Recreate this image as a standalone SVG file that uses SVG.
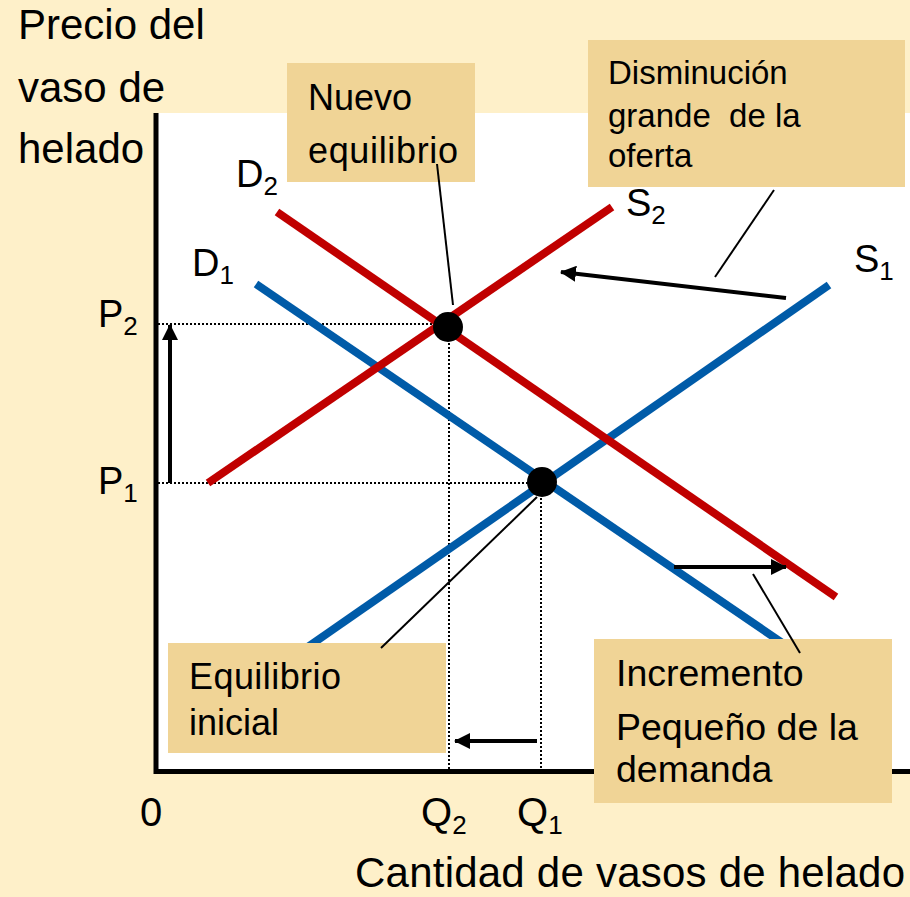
<svg xmlns="http://www.w3.org/2000/svg" width="910" height="897" viewBox="0 0 910 897">
<style>
text{font-family:"Liberation Sans",Arial,sans-serif;fill:#000}
.ax{font-size:42px}
.lb{font-size:38px}
.lq{font-size:40px}
.sub{font-size:26px}
.box{fill:#F0D496}
.bt{font-size:36px}
.bs{font-size:33px}
.bl{font-size:37.5px}
.crv{stroke-width:8;fill:none;stroke-linecap:butt}
.red{stroke:#C00000}
.blue{stroke:#005BA8}
.dot{stroke:#000;stroke-width:2;stroke-dasharray:2 2;fill:none}
.lead{stroke:#000;stroke-width:2;fill:none}
.arr{stroke:#000;stroke-width:4;fill:none;marker-end:url(#ah)}
</style>
<defs>
<marker id="ah" markerUnits="userSpaceOnUse" markerWidth="16" markerHeight="16" viewBox="0 0 16 16" refX="15" refY="8" orient="auto">
<path d="M0,0 L16,8 L0,16 z" fill="#000"/>
</marker>
</defs>
<rect x="0" y="0" width="910" height="897" fill="#FEF0C9"/>
<rect x="156" y="113" width="754" height="659" fill="#FFFFFF"/>

<g id="guides">
<line class="dot" x1="158" y1="324" x2="448" y2="324"/>
<line class="dot" x1="158" y1="483" x2="541" y2="483"/>
<line class="dot" x1="449" y1="327" x2="449" y2="770"/>
<line class="dot" x1="541" y1="482" x2="541" y2="770"/>
</g>

<g id="curves">
<line id="S1" class="crv blue" x1="289" y1="660" x2="829" y2="285"/>
<line id="D1" class="crv blue" x1="256" y1="284" x2="800" y2="655"/>
<line id="S2" class="crv red" x1="208" y1="483" x2="612" y2="207"/>
<line id="D2" class="crv red" x1="277" y1="212" x2="836" y2="597"/>
</g>

<g id="axes">
<line x1="156" y1="113" x2="156" y2="774" stroke="#000" stroke-width="5"/>
<line x1="154" y1="771.5" x2="910" y2="771.5" stroke="#000" stroke-width="5"/>
</g>

<g id="box-nuevo">
<rect class="box" x="287" y="63" width="188" height="119"/>
<text class="bt" x="308" y="110">Nuevo</text>
<text class="bt" x="308" y="163" textLength="150" lengthAdjust="spacing">equilibrio</text>
</g>
<g id="box-disminucion">
<rect class="box" x="588" y="40" width="317" height="147"/>
<text class="bs" x="608" y="84">Disminución</text>
<text class="bs" x="608" y="127" xml:space="preserve">grande  de la</text>
<text class="bs" x="608" y="167">oferta</text>
</g>
<g id="box-equilibrio-inicial">
<rect class="box" x="168" y="643" width="278" height="110"/>
<text class="bt" x="189" y="689" textLength="152" lengthAdjust="spacing">Equilibrio</text>
<text class="bt" x="189" y="735">inicial</text>
</g>
<g id="box-incremento">
<rect class="box" x="594" y="639" width="298" height="164"/>
<text class="bl" x="616" y="686">Incremento</text>
<text class="bl" x="616" y="740">Pequeño de la</text>
<text class="bl" x="616" y="782">demanda</text>
</g>

<g id="connectors">
<line class="lead" x1="437" y1="164" x2="453" y2="305"/>
<line class="lead" x1="774" y1="190" x2="715" y2="277"/>
<line class="lead" x1="381" y1="648" x2="537" y2="497"/>
<line class="lead" x1="753" y1="574" x2="800" y2="653"/>
<line class="arr" x1="786" y1="298" x2="561" y2="272"/>
<line class="arr" x1="674" y1="567" x2="786" y2="567"/>
<line class="arr" x1="537" y1="741" x2="455" y2="741"/>
<line class="arr" x1="170" y1="483" x2="170" y2="325"/>
</g>

<g id="equilibria">
<circle cx="448" cy="327" r="15" fill="#000"/>
<circle cx="542" cy="482" r="15" fill="#000"/>
</g>

<g id="labels">
<text class="ax" x="18" y="39">Precio del</text>
<text class="ax" x="18" y="102">vaso de</text>
<text class="ax" x="18" y="163">helado</text>
<text class="ax" x="355" y="887" textLength="550" lengthAdjust="spacing">Cantidad de vasos de helado</text>
<text class="lq" x="140" y="826">0</text>
<text class="lq" x="421" y="826">Q<tspan class="sub" dy="8">2</tspan></text>
<text class="lq" x="517" y="826">Q<tspan class="sub" dy="8">1</tspan></text>
<text class="lb" x="98" y="327">P<tspan class="sub" dy="8">2</tspan></text>
<text class="lb" x="98" y="494">P<tspan class="sub" dy="8">1</tspan></text>
<text class="lb" x="236" y="187">D<tspan class="sub" dy="8">2</tspan></text>
<text class="lb" x="192" y="276">D<tspan class="sub" dy="8">1</tspan></text>
<text class="lb" x="626" y="216">S<tspan class="sub" dy="8">2</tspan></text>
<text class="lb" x="854" y="272">S<tspan class="sub" dy="8">1</tspan></text>
</g>
</svg>
